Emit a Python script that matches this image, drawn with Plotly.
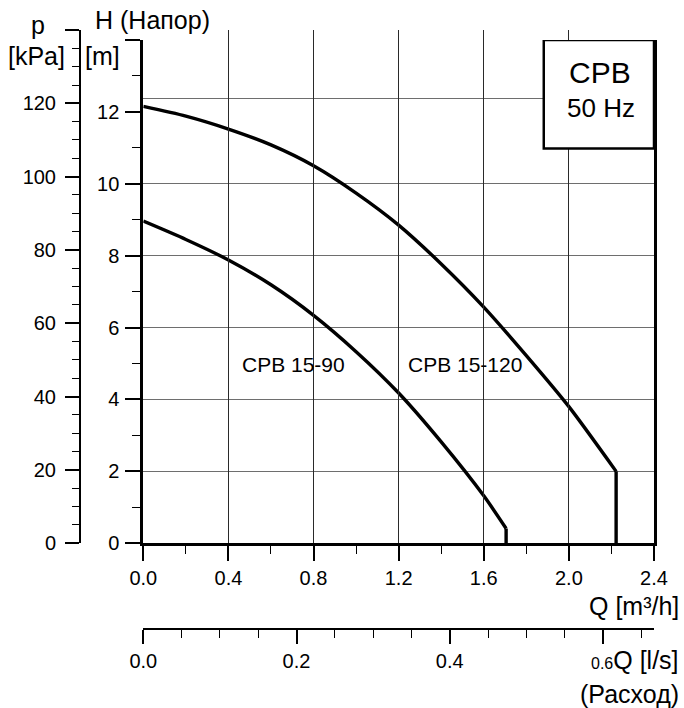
import plotly.graph_objects as go

# ---------------- data ----------------
Q_15_120 = [0.0, 0.2, 0.4, 0.6, 0.8, 1.0, 1.2, 1.4, 1.6, 1.8, 2.0, 2.222, 2.222]
H_15_120 = [12.15, 11.88, 11.52, 11.08, 10.5, 9.74, 8.85, 7.77, 6.57, 5.22, 3.8, 2.0, 0.0]
Q_15_90 = [0.0, 0.2, 0.4, 0.6, 0.8, 1.0, 1.2, 1.4, 1.6, 1.705, 1.705]
H_15_90 = [8.96, 8.45, 7.88, 7.19, 6.34, 5.33, 4.18, 2.82, 1.32, 0.41, 0.0]

CURVE_NAMES = ["CPB 15-120", "CPB 15-90"]
LABEL_Q = [1.51, 0.705]
LABEL_H = [4.98, 4.98]

H_TICKS = [0, 2, 4, 6, 8, 10, 12, 14]
H_TICKTEXT = ["0", "2", "4", "6", "8", "10", "12", ""]
H_GRID = [2, 4, 6, 8, 10, 12.38, 14]
P_TICKS = [0, 20, 40, 60, 80, 100, 120, 140]
P_TICKTEXT = ["0", "20", "40", "60", "80", "100", "120", ""]
Q_TICKS = [0.0, 0.4, 0.8, 1.2, 1.6, 2.0, 2.4]
Q_TICKTEXT = ["0.0", "0.4", "0.8", "1.2", "1.6", "2.0", "2.4"]
QLS_TICKS = [0.0, 0.2, 0.4, 0.6]
QLS_TICKTEXT = ["0.0", "0.2", "0.4", ""]
QLS_LAST_LABEL = "0.6"   # drawn next to the axis title, as in the reference

H_MAX = 14.0
Q_MAX = 2.4
P_MAX = 140.0
KPA_PER_M = 9.80665
M3H_PER_LS = 3.6

# ---------------- geometry ----------------
FIG_W, FIG_H = 684, 708
ML, MR, MT, MB = 80, 30, 30, 79
PW = FIG_W - ML - MR
PH = FIG_H - MT - MB


def px(x):
    return (x - ML) / PW


def py(y):
    return (FIG_H - MB - y) / PH


X_DOM0 = px(143.3)
Y_DOM0 = py(543.3)
H_TOP = Y_DOM0 + (1 - Y_DOM0) * (H_MAX * KPA_PER_M / P_MAX)

FONT = "Liberation Sans, Arial, sans-serif"

fig = go.Figure()

for q, h in [(Q_15_120, H_15_120), (Q_15_90, H_15_90)]:
    # smooth head curve
    fig.add_trace(go.Scatter(x=q[:-1], y=h[:-1], mode="lines",
                             line=dict(color="black", width=3.4, shape="spline", smoothing=0.7),
                             hoverinfo="skip", showlegend=False))
    # vertical drop at the end of the curve
    fig.add_trace(go.Scatter(x=q[-2:], y=h[-2:], mode="lines",
                             line=dict(color="black", width=3.4),
                             hoverinfo="skip", showlegend=False))

# dummy traces so the secondary axes get drawn
fig.add_trace(go.Scatter(x=[], y=[], xaxis="x", yaxis="y2", showlegend=False, hoverinfo="skip"))
fig.add_trace(go.Scatter(x=[], y=[], xaxis="x2", yaxis="y", showlegend=False, hoverinfo="skip"))
fig.add_trace(go.Scatter(x=[], y=[], xaxis="x", yaxis="y3", showlegend=False, hoverinfo="skip"))

tickfont = dict(family=FONT, size=20, color="black")

fig.update_layout(
    width=FIG_W, height=FIG_H,
    margin=dict(l=ML, r=MR, t=MT, b=MB, pad=0),
    paper_bgcolor="white", plot_bgcolor="rgba(0,0,0,0)",
    font=dict(family=FONT, color="black"),
    xaxis=dict(
        domain=[X_DOM0, 1], range=[0, Q_MAX], anchor="y",
        tickmode="array", tickvals=Q_TICKS, ticktext=Q_TICKTEXT,
        ticks="outside", ticklen=15, tickwidth=2, tickcolor="black",
        ticklabelstandoff=0,
        minor=dict(dtick=0.2, tick0=0, ticklen=8, tickwidth=1, tickcolor="black", showgrid=False),
        showline=True, linecolor="black", linewidth=3,
        showgrid=True, gridcolor="#2a2a2a", gridwidth=1,
        zeroline=False, tickfont=tickfont, fixedrange=True,
    ),
    xaxis2=dict(
        domain=[X_DOM0, 1], range=[0, Q_MAX / M3H_PER_LS], anchor="free", position=0,
        tickmode="array", tickvals=QLS_TICKS, ticktext=QLS_TICKTEXT,
        ticks="outside", ticklen=14, tickwidth=2, tickcolor="black",
        ticklabelstandoff=0,
        minor=dict(dtick=0.05, tick0=0, ticklen=8, tickwidth=1, tickcolor="black", showgrid=False),
        showline=True, linecolor="black", linewidth=2,
        showgrid=False, zeroline=False, tickfont=tickfont, fixedrange=True,
    ),
    yaxis=dict(
        domain=[Y_DOM0, H_TOP], range=[0, H_MAX], anchor="x",
        tickmode="array", tickvals=H_TICKS, ticktext=H_TICKTEXT,
        ticks="outside", ticklen=15, tickwidth=2, tickcolor="black",
        ticklabelstandoff=2,
        minor=dict(dtick=1, tick0=0, ticklen=8, tickwidth=1, tickcolor="black", showgrid=False),
        showline=True, linecolor="black", linewidth=3, mirror=True,
        showgrid=False, zeroline=False, tickfont=tickfont, fixedrange=True,
    ),
    yaxis3=dict(
        domain=[Y_DOM0, H_TOP], range=[0, H_MAX], anchor="x", overlaying="y",
        tickmode="array", tickvals=H_GRID, showticklabels=False, ticks="",
        showline=False, showgrid=True, gridcolor="#6e6e6e", gridwidth=1,
        zeroline=False, fixedrange=True,
    ),
    yaxis2=dict(
        domain=[Y_DOM0, 1], range=[0, P_MAX], anchor="free", position=0,
        tickmode="array", tickvals=P_TICKS, ticktext=P_TICKTEXT,
        ticks="outside", ticklen=14, tickwidth=2, tickcolor="black",
        ticklabelstandoff=5,
        minor=dict(dtick=5, tick0=0, ticklen=7, tickwidth=1, tickcolor="black", showgrid=False),
        showline=True, linecolor="black", linewidth=2,
        showgrid=False, zeroline=False, tickfont=tickfont, fixedrange=True,
    ),
)

# curve labels
for name, q, h in zip(CURVE_NAMES, LABEL_Q, LABEL_H):
    fig.add_annotation(x=q, y=h, xref="x", yref="y", text=name, showarrow=False,
                       font=dict(family=FONT, size=21, color="black"),
                       xanchor="center", yanchor="middle")

# info box
fig.add_shape(type="rect", xref="x", yref="y", x0=1.882, x1=Q_MAX, y0=10.98, y1=H_MAX,
              line=dict(color="black", width=2.5), fillcolor="white", layer="above")
fig.add_annotation(x=px(600), y=py(72.6), xref="paper", yref="paper", text="CPB",
                   showarrow=False, font=dict(family=FONT, size=30, color="black"),
                   xanchor="center", yanchor="middle")
fig.add_annotation(x=px(601), y=py(108), xref="paper", yref="paper", text="50 Hz",
                   showarrow=False, font=dict(family=FONT, size=26, color="black"),
                   xanchor="center", yanchor="middle")

# axis titles
title_font = dict(family=FONT, size=25, color="black")
titles = [
    ("p", 37.5, 24.6, "center"),
    ("[kPa]", 36, 56.3, "center"),
    ("H (Напор)", 152, 19.6, "center"),
    ("[m]", 102.5, 56.3, "center"),
    ("Q [m³/h]", 681, 605.5, "right"),
    ("<span style='font-size:16px'>" + QLS_LAST_LABEL + "</span>Q [l/s]", 681, 660.3, "right"),
    ("(Расход)", 681, 694.3, "right"),
]
for text, x, y, anchor in titles:
    fig.add_annotation(x=px(x), y=py(y), xref="paper", yref="paper", text=text,
                       showarrow=False, font=title_font, xanchor=anchor, yanchor="middle")

fig.write_html("out.html",
               config={"displayModeBar": False},
               post_script="document.body.style.margin='0px';"
                           "document.body.style.overflow='hidden';")
